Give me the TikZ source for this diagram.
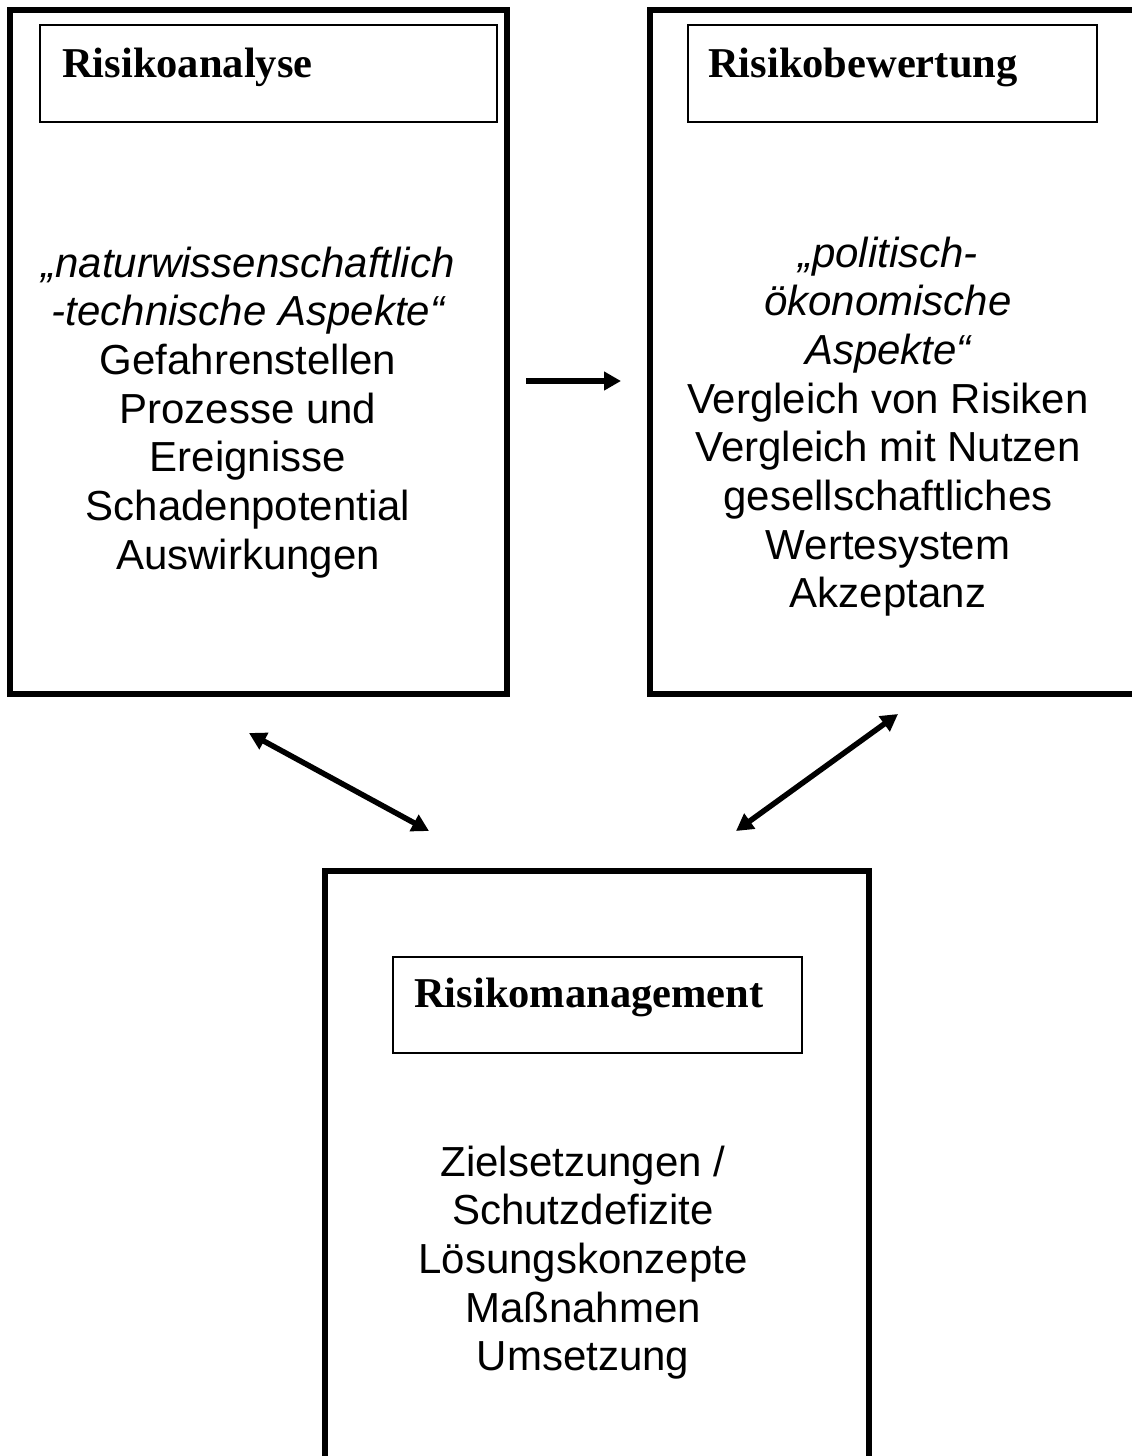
\documentclass[tikz,border=0pt]{standalone}
\usepackage{fontspec}
\setmainfont{Liberation Serif}
\newfontfamily\arialfont{Liberation Sans}
\usetikzlibrary{arrows.meta}
\begin{document}
\begin{tikzpicture}[x=1pt,y=-1pt,
  outerbox/.style={draw, line width=6pt, inner sep=0pt},
  titlebox/.style={draw, line width=1.5pt, inner sep=0pt},
  titletext/.style={anchor=base west, inner sep=0pt, font=\fontsize{42.5}{48}\selectfont\bfseries},
  bodytext/.style={anchor=base, inner sep=0pt, font=\arialfont\fontsize{42}{48.7}\selectfont},
  conn/.style={line width=5.5pt, -{Triangle[length=17pt,width=18pt]}},
  dconn/.style={line width=5.5pt, {Triangle[length=17pt,width=18pt]}-{Triangle[length=17pt,width=18pt]}}]
\useasboundingbox (0,0) rectangle (1132,1456);
\fill[white] (0,0) rectangle (1132,1456);
\clip (0,0) rectangle (1132,1456);

% outer boxes
\node[outerbox, minimum width=497pt, minimum height=684pt] (ana) at (258.5,352) {};
\node[outerbox, minimum width=490pt, minimum height=684pt] (bew) at (895,352) {};
\node[outerbox, minimum width=544pt, minimum height=600pt] (man) at (597,1171) {};

% title boxes
\node[titlebox, minimum width=457pt, minimum height=97pt] (anat) at (268.5,73.5) {};
\node[titlebox, minimum width=409pt, minimum height=97pt] (bewt) at (892.5,73.5) {};
\node[titlebox, minimum width=409pt, minimum height=96pt] (mant) at (597.5,1005) {};

\node[titletext] (anatxt) at (62,77) {Risikoanalyse};
\node[titletext] (bewtxt) at (708,77) {Risikobewertung};
\node[titletext] (mantxt) at (414,1007) {Risikomanagement};

% body texts
\node[bodytext] (anabody) at (248,277) {\begin{tabular}[t]{@{}c@{}}
\itshape „naturwissenschaftlich\\
\itshape -technische Aspekte“\\
Gefahrenstellen\\
Prozesse und\\
Ereignisse\\
Schadenpotential\\
Auswirkungen
\end{tabular}};

\node[bodytext] (bewbody) at (888,267) {\begin{tabular}[t]{@{}c@{}}
\itshape „politisch-\\
\itshape ökonomische\\
\itshape Aspekte“\\
Vergleich von Risiken\\
Vergleich mit Nutzen\\
gesellschaftliches\\
Wertesystem\\
Akzeptanz
\end{tabular}};

\node[bodytext] (manbody) at (583,1176) {\begin{tabular}[t]{@{}c@{}}
Zielsetzungen /\\
Schutzdefizite\\
Lösungskonzepte\\
Maßnahmen\\
Umsetzung
\end{tabular}};

% connectors
\coordinate (h1) at (526,381);
\coordinate (h2) at (621,381);
\draw[conn] (h1) -- (h2);
\coordinate (l1) at (249,733);
\coordinate (l2) at (429,831);
\draw[dconn] (l1) -- (l2);
\coordinate (r1) at (898,714);
\coordinate (r2) at (736,831);
\draw[dconn] (r1) -- (r2);
\end{tikzpicture}
\end{document}
